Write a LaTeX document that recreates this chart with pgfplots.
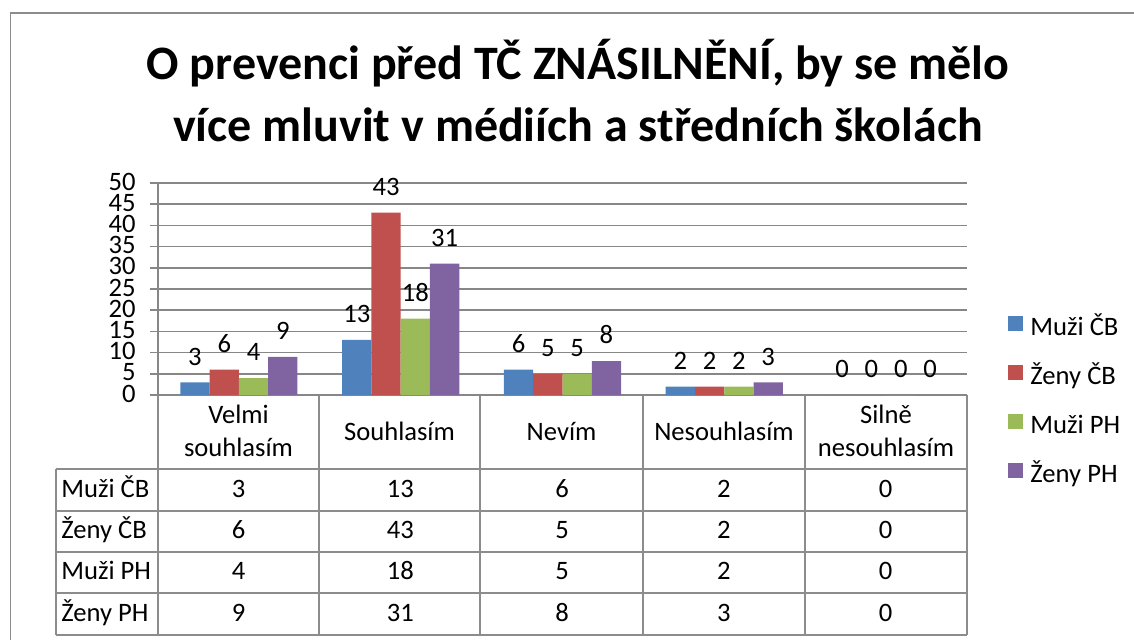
\documentclass[border=0pt]{standalone}
\usepackage{fontspec}
\setmainfont{Carlito}
\usepackage{pgfplots}
\pgfplotsset{compat=1.18}
\definecolor{sA}{HTML}{4F81BD}
\definecolor{sB}{HTML}{C0504D}
\definecolor{sC}{HTML}{9BBB59}
\definecolor{sD}{HTML}{8064A2}
\definecolor{gridc}{HTML}{878787}
\definecolor{tabc}{HTML}{8C8C8C}
\newcommand{\tf}{\fontsize{13.3}{15}\selectfont}
\pgfplotsset{sq legend/.style={legend image code/.code={\fill[##1] (0pt,-1pt) rectangle (7.5pt,6.5pt);}}}
\begin{document}
\begin{tikzpicture}
\begin{scope}[x=0.5pt,y=-0.5pt]
\useasboundingbox (0,0) rectangle (1134,640);
\draw[tabc, line width=0.75pt] (10.5,640) -- (10.5,13) -- (1134,13);
\node[anchor=base, font=\bfseries\fontsize{24}{29}\selectfont, inner sep=0pt] at (578,80) {O prevenci před TČ ZNÁSILNĚNÍ, by se mělo};
\node[anchor=base, font=\bfseries\fontsize{24}{29}\selectfont, inner sep=0pt] at (578,142) {více mluvit v médiích a středních školách};
% table grid
\begin{scope}[tabc, line width=0.75pt]
\foreach \yy in {469,511,552,593,635} \draw (56,\yy) -- (967,\yy);
\draw (158,395) -- (967,395);
\draw (56,469) -- (56,635);
\foreach \xx in {158,319,480,643,805,967} \draw (\xx,395) -- (\xx,635);
\end{scope}
\begin{scope}[font=\tf, inner sep=0pt]
\node[anchor=base] at (238.5,424) {Velmi};
\node[anchor=base] at (238.5,457) {souhlasím};
\node[anchor=base] at (399.5,441) {Souhlasím};
\node[anchor=base] at (561.5,441) {Nevím};
\node[anchor=base] at (724,441) {Nesouhlasím};
\node[anchor=base] at (886,424) {Silně};
\node[anchor=base] at (886,457) {nesouhlasím};
\node[anchor=base west] at (61,497) {Muži ČB};
\node[anchor=base west] at (61,538.5) {Ženy ČB};
\node[anchor=base west] at (61,579.5) {Muži PH};
\node[anchor=base west] at (61,621) {Ženy PH};
\foreach \v [count=\i from 0] in {3,13,6,2,0} \node[anchor=base] at (238.5+161.8*\i,497) {\v};
\foreach \v [count=\i from 0] in {6,43,5,2,0} \node[anchor=base] at (238.5+161.8*\i,538.5) {\v};
\foreach \v [count=\i from 0] in {4,18,5,2,0} \node[anchor=base] at (238.5+161.8*\i,579.5) {\v};
\foreach \v [count=\i from 0] in {9,31,8,3,0} \node[anchor=base] at (238.5+161.8*\i,621) {\v};
\end{scope}
\end{scope}
\begin{axis}[
  at={(79pt,-197.5pt)}, anchor=south west,
  scale only axis, width=404.5pt, height=106pt,
  ybar, bar width=0.181,
  xmin=-0.5, xmax=4.5, ymin=0, ymax=50,
  enlargelimits=false, clip=false,
  axis x line=none, axis y line*=left,
  y axis line style={gridc, line width=0.75pt},
  xtick=\empty,
  ytick={0,5,...,50},
  ymajorgrids, grid style={gridc, line width=0.75pt},
  tick align=outside, major tick length=4pt,
  ytick style={gridc, line width=0.75pt},
  yticklabel style={font=\tf, inner sep=0pt, xshift=-7pt, text height=7pt, text depth=0pt},
  /pgf/number format/assume math mode=true,
  nodes near coords,
  every node near coord/.append style={font=\tf, text=black, anchor=base, inner sep=0pt, yshift=8.6pt},
  legend style={draw=none, fill=none, at={(1.0433,-0.035)}, anchor=west,
    font=\tf, row sep=12pt,
    nodes={inner sep=0pt, text height=9pt, text depth=3pt},
    /tikz/every odd column/.style={column sep=3.5pt}},
  legend cell align=left,
]
\addplot[fill=sA, draw=none, bar shift=-0.2715, sq legend] coordinates {(0,3) (1,13) (2,6) (3,2) (4,0)};
\addplot[fill=sB, draw=none, bar shift=-0.0905, sq legend] coordinates {(0,6) (1,43) (2,5) (3,2) (4,0)};
\addplot[fill=sC, draw=none, bar shift=0.0905, sq legend] coordinates {(0,4) (1,18) (2,5) (3,2) (4,0)};
\addplot[fill=sD, draw=none, bar shift=0.2715, sq legend] coordinates {(0,9) (1,31) (2,8) (3,3) (4,0)};
\legend{Muži ČB, Ženy ČB, Muži PH, Ženy PH}
\end{axis}
\end{tikzpicture}
\end{document}
